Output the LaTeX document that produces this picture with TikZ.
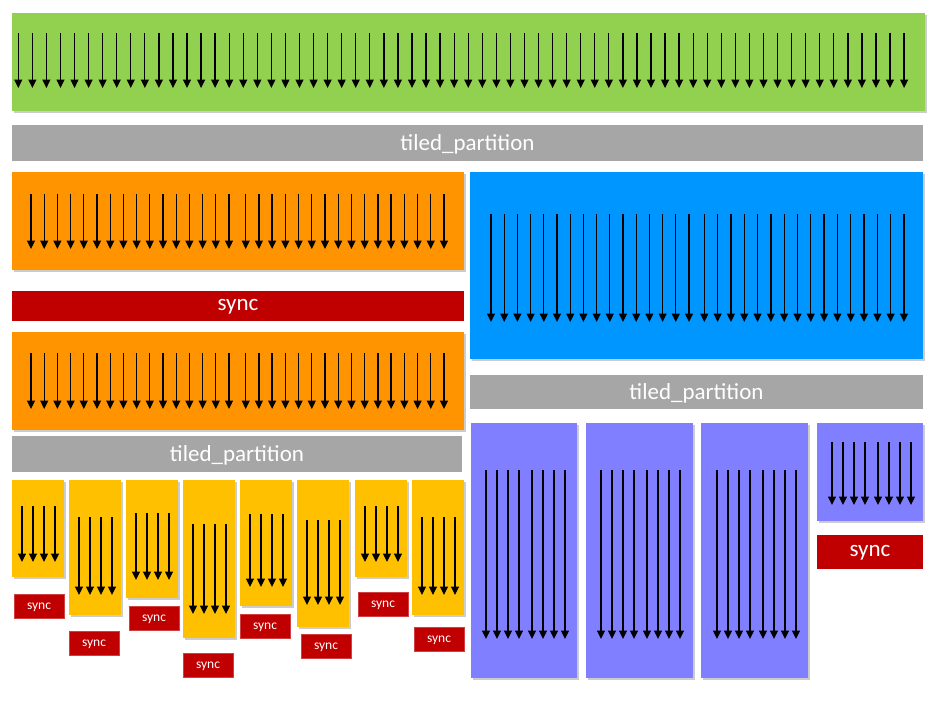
\documentclass[tikz,border=0pt]{standalone}
\usepackage{fontspec}
\setmainfont{Carlito}
\usetikzlibrary{arrows.meta,shadows}
\definecolor{cgreen}{HTML}{92D050}
\definecolor{corange}{HTML}{FF9300}
\definecolor{cblue}{HTML}{0096FF}
\definecolor{cyellow}{HTML}{FFC000}
\definecolor{cpurple}{HTML}{7F7FFF}
\definecolor{cred}{HTML}{C00000}
\definecolor{cgray}{HTML}{A6A6A6}
\tikzset{
  box/.style={draw=none, inner sep=0pt, outer sep=0pt, anchor=north west,
    drop shadow={shadow xshift=1.5pt, shadow yshift=-2pt, opacity=0.2, fill=black}},
  bar/.style={draw=none, inner sep=0pt, outer sep=0pt, anchor=north west},
  bigtext/.style={text=white, font=\fontsize{23}{26}\selectfont, yshift=-1pt},
  smallsync/.style={fill=cred, draw=cred!75!white, line width=0.6pt, inner sep=0pt, outer sep=0pt,
    anchor=north west, minimum width=50pt, minimum height=24pt},
  smalltext/.style={text=white, font=\fontsize{13.5}{15}\selectfont, yshift=-1.5pt},
  thr/.style={line width=1.3pt, -{Triangle[width=8pt,length=8.5pt]}}
}
\newcommand{\mythreads}[5]{%
  \foreach \i in {0,...,#3} \draw[thr] ({#1+\i*#2},#4) -- ({#1+\i*#2},#5);}
\newcommand{\mypthreads}[3]{%
  \foreach \o in {0,11,22,33,46,57,68,79} \draw[thr] ({#1+\o},#2) -- ({#1+\o},#3);}
\begin{document}
\begin{tikzpicture}[x=1pt,y=-1pt]
\useasboundingbox (0,0) rectangle (945,707);
% top block
\node[box, fill=cgreen, minimum width=913pt, minimum height=98pt] (blk) at (12,13) {};
\mythreads{18.3}{14.06}{63}{33}{88}
\node[bar, fill=cgray, minimum width=911pt, minimum height=36pt] (tp1) at (12,125) {};
\node[bigtext] (tp1t) at (tp1.center) {tiled\_partition};
% left half
\node[box, fill=corange, minimum width=452pt, minimum height=98pt] (o1) at (12,172) {};
\mythreads{31}{13.2}{15}{194}{249}
\mythreads{245.7}{13.22}{15}{194}{249}
\node[bar, fill=cred, minimum width=452pt, minimum height=30pt] (s1) at (12,291) {};
\node[bigtext] (s1t) at (s1.center) {sync};
\node[box, fill=corange, minimum width=452pt, minimum height=98pt] (o2) at (12,332) {};
\mythreads{31}{13.2}{15}{353}{409}
\mythreads{245.7}{13.22}{15}{353}{409}
\node[bar, fill=cgray, minimum width=450pt, minimum height=36pt] (tp2) at (12,436) {};
\node[bigtext] (tp2t) at (tp2.center) {tiled\_partition};
% yellow tiles
\foreach \n/\x/\h/\ys/\ye/\sx/\sy in {
  y1/12/97/506/562/14/594,
  y2/69/135/517/595/69/631,
  y3/126/118/513/580/129/606,
  y4/183/158/524/614/183/653,
  y5/240/126/514/587/240/614,
  y6/297/147/520/605/301/634,
  y7/355/97/506/562/358/592,
  y8/412/135/517/595/414/627}{
  \node[box, fill=cyellow, minimum width=52pt, minimum height=\h pt] (\n) at (\x,480) {};
  \foreach \k in {0,1,2,3}
    \draw[thr] ({\x+10+\k*11},\ys) -- ({\x+10+\k*11},\ye);
  \node[smallsync] (\n s) at (\sx,\sy) {};
  \node[smalltext] (\n t) at (\n s.center) {sync};
}
% right half
\node[box, fill=cblue, minimum width=453pt, minimum height=187pt] (b1) at (470,172) {};
\mythreads{491}{13.2}{15}{214}{322}
\mythreads{704.3}{13.31}{15}{214}{322}
\node[bar, fill=cgray, minimum width=453pt, minimum height=34pt] (tp3) at (470,375) {};
\node[bigtext] (tp3t) at (tp3.center) {tiled\_partition};
\node[box, fill=cpurple, minimum width=106pt, minimum height=255pt] (p1) at (471,423) {};
\mypthreads{486}{470}{639}
\node[box, fill=cpurple, minimum width=107pt, minimum height=255pt] (p2) at (586,423) {};
\mypthreads{601}{470}{639}
\node[box, fill=cpurple, minimum width=107pt, minimum height=255pt] (p3) at (701,423) {};
\mypthreads{717}{470}{639}
\node[box, fill=cpurple, minimum width=106pt, minimum height=98pt] (p4) at (817,423) {};
\mypthreads{832}{442}{505}
\node[bar, fill=cred, minimum width=106pt, minimum height=34pt] (s2) at (817,535) {};
\node[bigtext] (s2t) at (s2.center) {sync};
\end{tikzpicture}
\end{document}
